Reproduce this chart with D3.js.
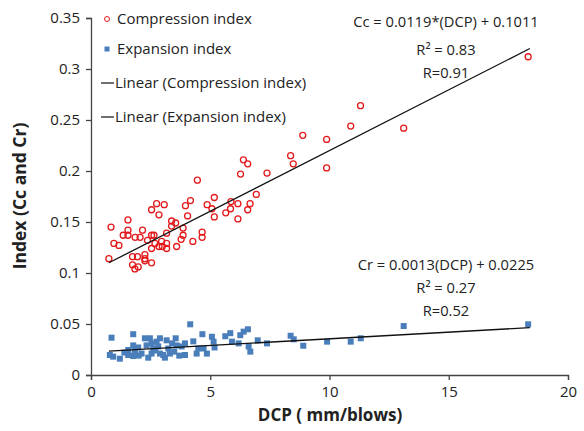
<!DOCTYPE html>
<html><head><meta charset="utf-8">
<script src="https://cdn.jsdelivr.net/npm/d3@7/dist/d3.min.js"></script>
<style>body{margin:0;background:#fff}svg{display:block}text{font-family:"Open Sans",sans-serif}</style>
</head><body><svg id="c" width="584" height="431"></svg>
<script>
const compressionDCP = [0.75,0.84,0.96,1.17,1.35,1.55,1.55,1.55,1.74,1.95,1.74,1.84,1.98,1.85,2.06,2.16,2.26,2.26,2.26,2.54,2.37,2.54,2.64,2.54,2.54,2.75,3.07,2.85,2.68,2.96,2.85,2.99,3.17,3.17,3.17,3.38,3.38,3.55,3.59,3.86,3.86,3.78,4.05,3.96,4.17,4.27,4.46,4.66,4.66,4.87,5.17,5.07,5.17,5.65,5.87,5.85,6.16,6.16,6.27,6.39,6.57,6.67,6.57,6.93,7.38,8.37,8.48,8.88,9.88,9.88,10.89,11.30,13.11,18.33];
const compressionIdx = [0.114,0.145,0.129,0.127,0.137,0.152,0.142,0.137,0.116,0.116,0.108,0.104,0.106,0.135,0.135,0.142,0.118,0.114,0.112,0.110,0.132,0.137,0.137,0.124,0.162,0.168,0.167,0.157,0.129,0.131,0.126,0.126,0.129,0.124,0.139,0.151,0.146,0.149,0.126,0.144,0.137,0.133,0.156,0.166,0.171,0.131,0.191,0.140,0.135,0.167,0.174,0.163,0.155,0.159,0.170,0.163,0.168,0.153,0.197,0.211,0.207,0.168,0.162,0.177,0.198,0.215,0.207,0.235,0.231,0.203,0.244,0.264,0.242,0.312];
const expansionDCP = [0.79,0.93,0.86,1.21,1.56,1.56,1.77,1.77,1.84,1.77,1.98,2.12,2.26,2.33,2.47,2.54,2.61,2.54,2.75,2.89,2.82,2.89,3.03,3.17,3.24,3.31,3.55,3.59,3.49,3.80,3.94,3.94,4.16,4.29,4.43,4.50,4.67,4.72,4.86,5.07,5.14,5.18,5.63,5.84,5.91,6.19,6.26,6.40,6.58,6.61,6.68,6.99,7.38,8.37,8.50,8.90,9.90,10.89,11.31,13.11,18.33,2.0,2.4,3.1,3.7,1.4,2.7,3.4];
const expansionIdx = [0.0196,0.018,0.0366,0.016,0.0245,0.0196,0.040,0.029,0.0245,0.0186,0.027,0.021,0.036,0.029,0.036,0.031,0.026,0.021,0.0327,0.036,0.028,0.021,0.0196,0.034,0.026,0.021,0.036,0.029,0.0229,0.028,0.031,0.0196,0.0497,0.033,0.021,0.026,0.040,0.026,0.021,0.0375,0.0327,0.027,0.038,0.041,0.0327,0.031,0.039,0.0425,0.0448,0.028,0.0229,0.034,0.031,0.0385,0.035,0.0287,0.0327,0.0327,0.036,0.048,0.0497,0.019,0.017,0.017,0.019,0.022,0.024,0.031];
const xTicks = [0,5,10,15,20];
const yTicks = [0,0.05,0.1,0.15,0.2,0.25,0.3,0.35];
const trendCc = {slope:0.0119, intercept:0.1011, from:0.75, to:18.4};
const trendCr = {slope:0.0013, intercept:0.0225, from:0.75, to:18.4};
const legendLabels = ["Compression index","Expansion index","Linear (Compression index)","Linear (Expansion index)"];
const eqCc = ["Cc = 0.0119*(DCP) + 0.1011","R² = 0.83","R=0.91"];
const eqCr = ["Cr = 0.0013(DCP) + 0.0225","R² = 0.27","R=0.52"];

const svg = d3.select("#c");
const x = d3.scaleLinear().domain([0,20]).range([91,568]);
const y = d3.scaleLinear().domain([0,0.35]).range([375,18]);
const red = "#e31a1c", blue = "#4a7ebb";

const xa = svg.append("g").attr("transform","translate(0,375)")
  .call(d3.axisBottom(x).tickValues(xTicks).tickSize(5).tickPadding(6).tickFormat(d3.format("d")));
const ya = svg.append("g").attr("transform","translate(91,0)")
  .call(d3.axisLeft(y).tickValues(yTicks).tickSize(5).tickPadding(6).tickFormat(d=>d===0?"0":d3.format("")(+d.toFixed(2))));
[xa,ya].forEach(g=>{
  g.selectAll("path,line").attr("stroke","#444").attr("stroke-width",1.3);
  g.selectAll("text").attr("font-size",15).attr("fill","#222").attr("font-family","'Open Sans',sans-serif");
});

function trend(t){
  svg.append("line").attr("x1",x(t.from)).attr("y1",y(t.slope*t.from+t.intercept))
    .attr("x2",x(t.to)).attr("y2",y(t.slope*t.to+t.intercept)).attr("stroke","#111").attr("stroke-width",1.3);
}

svg.append("g").selectAll("rect").data(d3.range(expansionDCP.length)).join("rect")
  .attr("x",i=>x(expansionDCP[i])-3).attr("y",i=>y(expansionIdx[i])-3)
  .attr("width",6).attr("height",6).attr("fill",blue);
svg.append("g").selectAll("circle").data(d3.range(compressionDCP.length)).join("circle")
  .attr("cx",i=>x(compressionDCP[i])).attr("cy",i=>y(compressionIdx[i])).attr("r",3)
  .attr("fill","none").attr("stroke",red).attr("stroke-width",1.3);
trend(trendCc); trend(trendCr);

// legend
const lg = svg.append("g");
const ly = [19,49,83,117];
lg.append("circle").attr("cx",107).attr("cy",ly[0]).attr("r",2.5).attr("fill","none").attr("stroke",red).attr("stroke-width",1);
lg.append("rect").attr("x",104.5).attr("y",ly[1]-2.5).attr("width",5).attr("height",5).attr("fill",blue);
[2,3].forEach(k=>lg.append("line").attr("x1",101).attr("x2",114).attr("y1",ly[k]).attr("y2",ly[k]).attr("stroke","#111").attr("stroke-width",1.2));
legendLabels.forEach((t,k)=>lg.append("text").attr("x",k<2?117:115).attr("y",ly[k]).attr("dy","0.35em")
  .attr("font-size",15).attr("fill","#222").text(t));

eqCc.forEach((t,k)=>svg.append("text").attr("x",446).attr("y",[22,50,73][k]).attr("dy","0.35em")
  .attr("text-anchor","middle").attr("font-size",14.7).attr("fill","#222").text(t));
eqCr.forEach((t,k)=>svg.append("text").attr("x",446).attr("y",[265,288,311][k]).attr("dy","0.35em")
  .attr("text-anchor","middle").attr("font-size",14.7).attr("fill","#222").text(t));

svg.append("text").attr("x",330).attr("y",421).attr("text-anchor","middle").attr("font-size",17)
  .attr("font-weight","bold").attr("fill","#222").text("DCP ( mm/blows)");
svg.append("text").attr("transform","translate(26,196) rotate(-90)").attr("text-anchor","middle").attr("font-size",17.5)
  .attr("font-weight","bold").attr("fill","#222").text("Index (Cc and Cr)");
</script></body></html>
